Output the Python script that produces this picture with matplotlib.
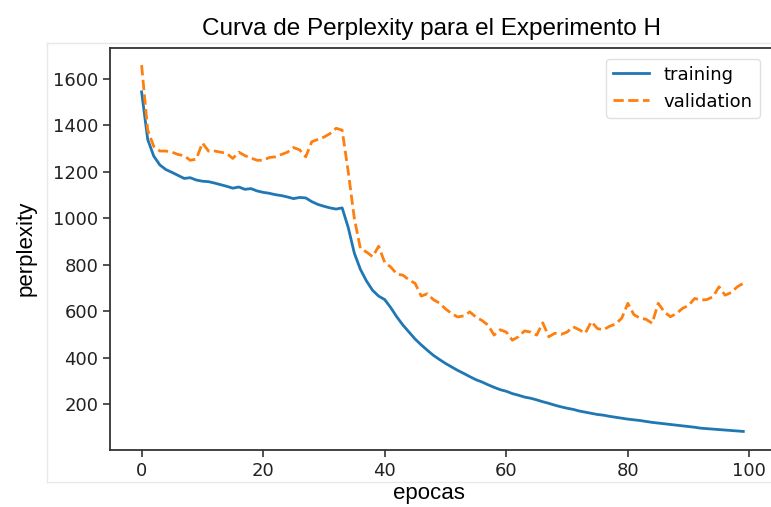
import numpy as np
import matplotlib
matplotlib.use("Agg")
import matplotlib.pyplot as plt
from matplotlib.lines import Line2D

epocas = np.arange(100)

training = [
    1545, 1340, 1268, 1230, 1210, 1198, 1185, 1172, 1175, 1165,
    1160, 1158, 1152, 1145, 1138, 1130, 1135, 1125, 1128, 1118,
    1112, 1108, 1102, 1098, 1092, 1085, 1090, 1088, 1072, 1060,
    1052, 1045, 1040, 1045, 960, 850, 780, 730, 690, 665,
    650, 615, 575, 540, 510, 480, 455, 432, 410, 392,
    375, 360, 345, 332, 318, 305, 295, 283, 272, 262,
    255, 245, 238, 230, 225, 218, 210, 203, 195, 188,
    182, 177, 170, 165, 160, 155, 152, 147, 143, 139,
    135, 132, 129, 125, 121, 118, 115, 112, 109, 106,
    103, 100, 96, 94, 92, 90, 88, 86, 84, 82,
]

validation = [
    1660, 1380, 1310, 1290, 1290, 1285, 1275, 1270, 1250, 1255,
    1325, 1290, 1290, 1285, 1280, 1258, 1285, 1270, 1260, 1250,
    1250, 1262, 1265, 1275, 1285, 1305, 1295, 1265, 1330, 1340,
    1350, 1365, 1388, 1380, 1200, 1000, 870, 855, 835, 880,
    810, 790, 760, 755, 735, 720, 665, 675, 650, 635,
    610, 590, 575, 580, 597, 575, 560, 540, 497, 520,
    510, 475, 490, 515, 510, 497, 550, 490, 505, 500,
    510, 533, 520, 505, 555, 525, 520, 535, 545, 570,
    634, 585, 570, 565, 548, 634, 597, 576, 590, 612,
    625, 655, 648, 650, 662, 705, 669, 680, 705, 720,
]

W, H = 771, 507
fig = plt.figure(figsize=(W / 100, H / 100), dpi=100)

# axes box in pixels: left 110, right ~774 (runs past the edge), top 47.5, bottom 450
ax = fig.add_axes([110 / W, 1 - 450 / H, (773.7 - 110) / W, (450 - 47.5) / H])

ax.plot(epocas, training, color="#1f77b4", lw=2.0, label="training")
ax.plot(epocas, validation, color="#ff7f0e", lw=2.0, ls="--", label="validation")

ax.set_xlim(-5.2, 104)
ax.set_ylim(2, 1736)
ax.set_xticks([0, 20, 40, 60, 80, 100])
ax.set_yticks([200, 400, 600, 800, 1000, 1200, 1400, 1600])
ax.tick_params(labelsize=13, length=5, width=1.2, colors="#333333", labelcolor="#222222")
for s in ax.spines.values():
    s.set_linewidth(1.3)
    s.set_color("#333333")

lab_font = dict(family="Liberation Sans", size=16)
ax.set_xlabel("epocas", **lab_font)
ax.set_ylabel("perplexity", **lab_font)
ax.xaxis.set_label_coords((429 - 110) / (773.7 - 110), -0.082)
ax.yaxis.set_label_coords(-0.11, 0.5)

ax.set_title("Curva de Perplexity para el Experimento H", family="Liberation Sans",
             size=17.5, x=(431 - 110) / (773.7 - 110), pad=9)

leg = ax.legend(loc="upper right", fontsize=13, framealpha=0.9,
                bbox_to_anchor=(0.993, 0.995))
leg.get_frame().set_edgecolor("#dddddd")

# faint frame around the plotting area
frame_kw = dict(color="#e8e8e8", lw=1.0, transform=fig.transFigure)
fig.add_artist(Line2D([47 / W, 47 / W], [1 - 43 / H, 1 - 482 / H], **frame_kw))
fig.add_artist(Line2D([47 / W, 1], [1 - 482 / H, 1 - 482 / H], **frame_kw))
fig.add_artist(Line2D([47 / W, 1], [1 - 43 / H, 1 - 43 / H], **frame_kw))

fig.savefig("out.png", dpi=100)
